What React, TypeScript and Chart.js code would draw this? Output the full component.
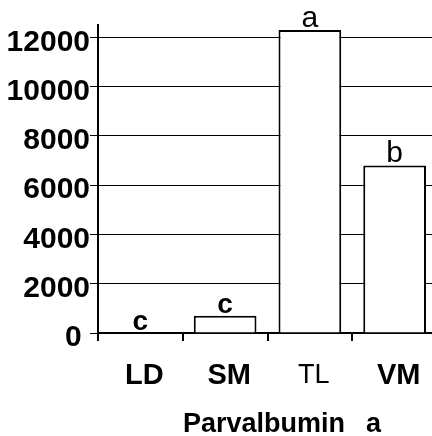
import React, { useEffect, useRef } from "react";
import { Chart, registerables } from "chart.js";

Chart.register(...registerables);

const categories = ["LD", "SM", "TL", "VM"];
const values = [0, 700, 12300, 6800];
const groupLetters = ["c", "c", "a", "b"];
const yTicks = [0, 2000, 4000, 6000, 8000, 10000, 12000];
const yMax = 12500;
const xTitleMain = "Parvalbumin";
const xTitleSuffix = "a";

const FAMILY = "'Liberation Sans', Arial, sans-serif";

const lettersPlugin = {
  id: "groupLetters",
  afterDatasetsDraw(chart: any) {
    const ctx = chart.ctx;
    const meta = chart.getDatasetMeta(0);
    ctx.save();
    ctx.fillStyle = "#000";
    ctx.textAlign = "center";
    ctx.textBaseline = "alphabetic";
    meta.data.forEach((bar: any, i: number) => {
      const letter = groupLetters[i];
      ctx.font = letter === "c" ? `bold 28px ${FAMILY}` : `normal 30px ${FAMILY}`;
      ctx.fillText(letter, bar.x, bar.y - 3);
    });
    ctx.restore();
  },
};

const titlePlugin = {
  id: "xTitle",
  afterDraw(chart: any) {
    const ctx = chart.ctx;
    const area = chart.chartArea;
    ctx.save();
    ctx.fillStyle = "#000";
    ctx.textAlign = "left";
    ctx.textBaseline = "alphabetic";
    ctx.font = `bold 27px ${FAMILY}`;
    const x0 = area.left + 85;
    const y0 = area.bottom + 99;
    ctx.fillText(xTitleMain, x0, y0);
    const w = ctx.measureText(xTitleMain).width;
    ctx.fillText(xTitleSuffix, x0 + w + 21, y0);
    ctx.restore();
  },
};

export default function App() {
  const ref = useRef<HTMLCanvasElement | null>(null);

  useEffect(() => {
    if (!ref.current) return;
    const chart = new Chart(ref.current, {
      type: "bar",
      data: {
        labels: categories,
        datasets: [
          {
            data: values,
            backgroundColor: "#ffffff",
            borderColor: "#000000",
            borderWidth: 2,
            borderSkipped: "start",
            categoryPercentage: 1,
            barPercentage: 0.74,
          },
        ],
      },
      options: {
        animation: false,
        responsive: false,
        layout: { padding: { top: 25, right: 0, bottom: 0, left: 0 } },
        plugins: {
          legend: { display: false },
          tooltip: { enabled: false },
        },
        scales: {
          x: {
            offset: true,
            border: { display: true, color: "#000", width: 2 },
            grid: {
              offset: true,
              drawOnChartArea: false,
              drawTicks: true,
              tickLength: 8,
              color: "#000",
              lineWidth: 2,
            },
            ticks: {
              color: "#000",
              padding: 18,
              labelOffset: 4,
              font: (c: any) =>
                c.index === 2
                  ? { family: FAMILY, size: 27, weight: "normal" }
                  : { family: FAMILY, size: 29, weight: "bold" },
            },
            afterFit: (scale: any) => {
              scale.height = 103;
            },
          },
          y: {
            min: 0,
            max: yMax,
            border: { display: true, color: "#000", width: 2 },
            grid: {
              color: "#000",
              lineWidth: 1,
              tickLength: 8,
              drawTicks: true,
            },
            afterBuildTicks: (scale: any) => {
              scale.ticks = yTicks.map((v) => ({ value: v }));
            },
            ticks: {
              color: "#000",
              padding: 0,
              labelOffset: 5,
              font: { family: FAMILY, size: 30, weight: "bold" },
              callback: (v: any) => (Number(v) === 0 ? "0 " : String(v)),
            },
            afterFit: (scale: any) => {
              scale.width = 98;
            },
          },
        },
      },
      plugins: [lettersPlugin, titlePlugin],
    });
    return () => chart.destroy();
  }, []);

  return (
    <div
      style={{
        position: "absolute",
        left: 0,
        top: 0,
        width: 432,
        height: 436,
        overflow: "hidden",
        background: "#fff",
      }}
    >
      <canvas ref={ref} width={437} height={436} style={{ display: "block" }} />
    </div>
  );
}
